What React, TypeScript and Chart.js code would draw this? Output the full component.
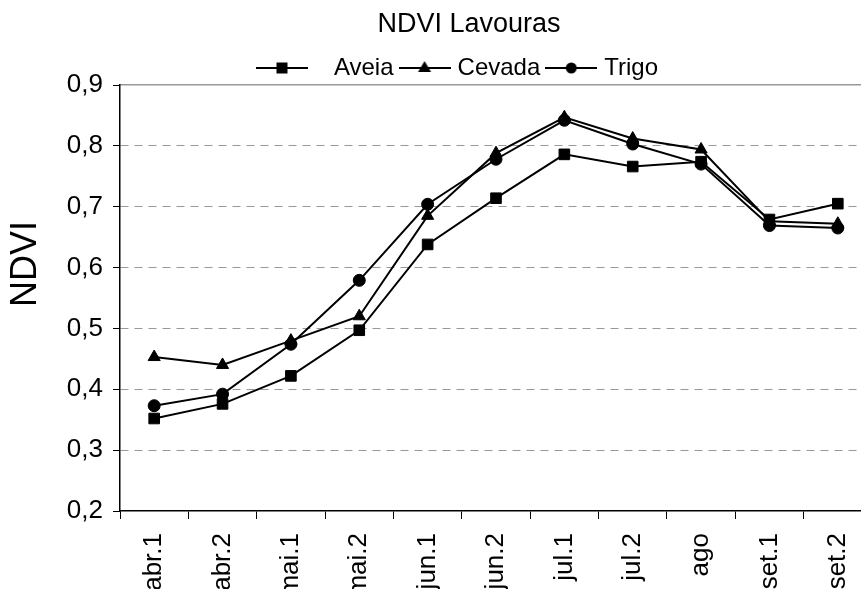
import { useEffect, useRef } from 'react';
import { Chart, registerables } from 'chart.js';

Chart.register(...registerables);

const categories = ['abr.1', 'abr.2', 'mai.1', 'mai.2', 'jun.1', 'jun.2', 'jul.1', 'jul.2', 'ago', 'set.1', 'set.2'];
const aveia = [0.352, 0.376, 0.422, 0.497, 0.638, 0.714, 0.786, 0.766, 0.774, 0.679, 0.705];
const cevada = [0.453, 0.440, 0.480, 0.520, 0.685, 0.788, 0.847, 0.812, 0.794, 0.676, 0.672];
const trigo = [0.373, 0.392, 0.474, 0.579, 0.704, 0.778, 0.842, 0.803, 0.770, 0.669, 0.665];
const seriesNames = ['Aveia', 'Cevada', 'Trigo'];
const chartTitle = 'NDVI Lavouras';
const yAxisTitle = 'NDVI';
const yMin = 0.2;
const yMax = 0.9;
const yStep = 0.1;

const FONT = "'Liberation Sans', Arial, sans-serif";

function makeLegendImage(shape: string, extra: number): HTMLCanvasElement {
  const lineLen = 52;
  const c = document.createElement('canvas');
  c.width = lineLen + extra * 2;
  c.height = 20;
  const ctx = c.getContext('2d')!;
  ctx.strokeStyle = '#000';
  ctx.lineWidth = 2;
  ctx.beginPath();
  ctx.moveTo(0, 10);
  ctx.lineTo(lineLen, 10);
  ctx.stroke();
  const cx = lineLen / 2;
  const cy = 10;
  ctx.fillStyle = '#000';
  ctx.beginPath();
  if (shape === 'rect') {
    ctx.rect(cx - 5.5, cy - 5.5, 11, 11);
  } else if (shape === 'triangle') {
    ctx.moveTo(cx, cy - 7);
    ctx.lineTo(cx + 6.5, cy + 4);
    ctx.lineTo(cx - 6.5, cy + 4);
    ctx.closePath();
  } else {
    ctx.arc(cx, cy, 5.5, 0, Math.PI * 2);
  }
  ctx.fill();
  return c;
}

const yTitlePlugin = {
  id: 'yTitle',
  afterDraw(chart: any) {
    const { ctx, chartArea } = chart;
    ctx.save();
    ctx.translate(26, chartArea.top + (chartArea.bottom - chartArea.top) * 0.42);
    ctx.rotate(-Math.PI / 2);
    ctx.font = `36px ${FONT}`;
    ctx.fillStyle = '#000';
    ctx.textAlign = 'center';
    ctx.textBaseline = 'middle';
    ctx.fillText(yAxisTitle, 0, 0);
    ctx.restore();
  },
};

export default function App() {
  const ref = useRef<HTMLCanvasElement | null>(null);

  useEffect(() => {
    if (!ref.current) return;
    const shapes = ['rect', 'triangle', 'circle'];
    const radii = [7.5, 7, 6];
    const values = [aveia, cevada, trigo];
    const legendImgs = [makeLegendImage('rect', 19), makeLegendImage('triangle', 0), makeLegendImage('circle', 0)];

    const chart = new Chart(ref.current, {
      type: 'line',
      data: {
        labels: categories,
        datasets: seriesNames.map((name, i) => ({
          label: name,
          data: values[i],
          borderColor: '#000',
          backgroundColor: '#000',
          borderWidth: 2,
          pointStyle: shapes[i] as any,
          pointRadius: radii[i],
          pointBorderWidth: 1,
          pointBackgroundColor: '#000',
          pointBorderColor: '#000',
          tension: 0,
          fill: false,
        })),
      },
      options: {
        responsive: false,
        animation: false,
        layout: { padding: 0 },
        plugins: {
          title: {
            display: true,
            text: chartTitle,
            color: '#000',
            font: { family: FONT, size: 27, weight: 'normal' },
            padding: { top: 8, bottom: 5.6 },
          },
          legend: {
            display: true,
            position: 'top',
            maxHeight: 39,
            labels: {
              usePointStyle: true,
              pointStyleWidth: 42,
              padding: 10,
              color: '#000',
              font: { family: FONT, size: 24 },
              generateLabels: () =>
                seriesNames.map((name, i) => ({
                  text: name,
                  pointStyle: legendImgs[i] as any,
                  fillStyle: '#000',
                  strokeStyle: '#000',
                  lineWidth: 0,
                  hidden: false,
                  datasetIndex: i,
                  fontColor: '#000',
                })),
            },
          },
          tooltip: { enabled: false },
        },
        scales: {
          x: {
            type: 'category',
            position: 'bottom',
            offset: true,
            grid: { offset: true, drawOnChartArea: false, drawTicks: true, tickLength: 8, tickColor: '#000', tickWidth: 1 },
            border: { display: true, color: '#000', width: 1.5 },
            ticks: {
              autoSkip: false,
              minRotation: 90,
              maxRotation: 90,
              padding: 14,
              color: '#000',
              font: { family: FONT, size: 26 },
            },
            afterFit: (s: any) => {
              s.height = 100;
            },
          },
          xTop: {
            type: 'category',
            position: 'top',
            labels: categories,
            offset: true,
            grid: { drawOnChartArea: false, drawTicks: false },
            ticks: { display: false },
            border: { display: true, color: '#999', width: 1.5 },
          },
          y: {
            type: 'linear',
            position: 'left',
            min: yMin,
            max: yMax,
            ticks: {
              stepSize: yStep,
              padding: 10,
              color: '#000',
              font: { family: FONT, size: 26 },
              callback: (v: any) => Number(v).toFixed(1).replace('.', ','),
            },
            grid: {
              color: (ctx: any) => (ctx.index === 0 || ctx.index === 7 ? 'rgba(0,0,0,0)' : '#999'),
              lineWidth: 1,
              drawTicks: true,
              tickLength: 7,
              tickColor: '#000',
              tickWidth: 1,
            },
            border: { display: true, color: '#000', width: 1.5, dash: [8, 6] },
            afterFit: (s: any) => {
              s.width = 120;
            },
          },
          yR: {
            type: 'linear',
            position: 'right',
            display: true,
            grid: { drawOnChartArea: false, drawTicks: false },
            border: { display: false },
            ticks: { display: false },
            afterFit: (s: any) => {
              s.width = 66;
            },
          },
        },
      } as any,
      plugins: [yTitlePlugin],
    });
    return () => chart.destroy();
  }, []);

  return (
    <div style={{ position: 'fixed', left: 0, top: 0, width: 861, height: 589, overflow: 'hidden', background: '#fff' }}>
      <canvas ref={ref} width={938} height={611} style={{ display: 'block' }} />
    </div>
  );
}
